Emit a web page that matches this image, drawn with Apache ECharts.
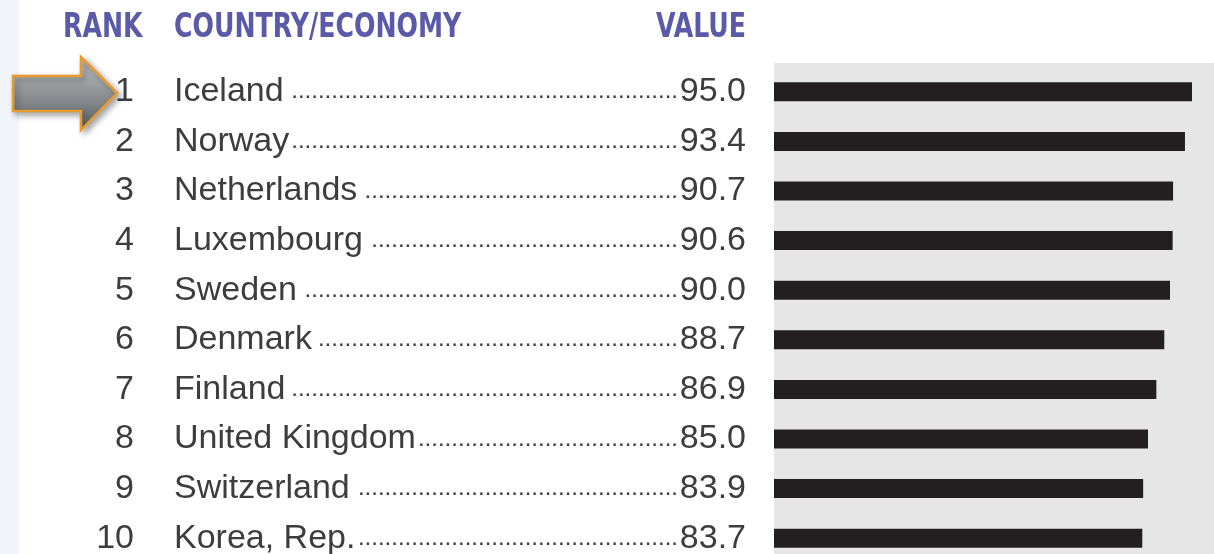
<!DOCTYPE html>
<html>
<head>
<meta charset="utf-8">
<script src="https://cdn.jsdelivr.net/npm/echarts@6/dist/echarts.min.js"></script>
<style>
  html, body { margin: 0; padding: 0; background: #ffffff; }
  #chart { width: 1214px; height: 554px; }
</style>
</head>
<body>
<div id="chart"></div>
<script>
const ranks = ['1', '2', '3', '4', '5', '6', '7', '8', '9', '10'];
const countries = ['Iceland', 'Norway', 'Netherlands', 'Luxembourg', 'Sweden', 'Denmark', 'Finland', 'United Kingdom', 'Switzerland', 'Korea, Rep.'];
const values = [95.0, 93.4, 90.7, 90.6, 90.0, 88.7, 86.9, 85.0, 83.9, 83.7];
const headers = ['RANK', 'COUNTRY/ECONOMY', 'VALUE'];

const textFont = '"Liberation Sans", Arial, sans-serif';
const headFont = '"DejaVu Sans Condensed", "Liberation Sans Narrow", sans-serif';
const textColor = '#3d3d3d';
const headColor = '#5a5aa8';
const nameSize = 34;
const dotSize = 24;

// count how many leader dots fit between the name and the value
const ctx = document.createElement('canvas').getContext('2d');
function textWidth(str, size) {
  ctx.font = size + 'px ' + textFont;
  return ctx.measureText(str).width;
}
const nameX = 174;
const dotsEnd = 678;
const dotW = textWidth('.', dotSize);
const dots = countries.map(c => {
  const room = dotsEnd - nameX - textWidth(c, nameSize) - 2;
  return '.'.repeat(Math.max(0, Math.floor(room / dotW)));
});

const chart = echarts.init(document.getElementById('chart'));
const gridLeft = 774;
const labelShift = [0, 0, 10, 0];

const hiddenAxis = {
  type: 'category',
  inverse: true,
  position: 'left',
  offset: 0,
  data: countries,
  axisLine: { show: false },
  axisTick: { show: false },
  splitLine: { show: false }
};

function headText(str, x, align) {
  return {
    type: 'text', x: x, y: 12, scaleX: 0.85, z: 5,
    style: { text: str, align: align, font: 'bold 33px ' + headFont, fill: headColor }
  };
}

const option = {
  animation: false,
  backgroundColor: '#ffffff',
  grid: { left: gridLeft, right: 0, top: 67, height: 496, outerBoundsMode: 'none', containLabel: false },
  xAxis: { type: 'value', min: 0, max: 100, show: false },
  yAxis: [
    {
      ...hiddenAxis,
      axisLabel: {
        interval: 0,
        margin: gridLeft - 134,
        align: 'right',
        fontFamily: textFont, fontSize: nameSize, color: textColor,
        padding: labelShift,
        formatter: (v, i) => ranks[i]
      }
    },
    {
      ...hiddenAxis,
      axisLabel: {
        interval: 0,
        margin: gridLeft - nameX,
        align: 'left',
        fontFamily: textFont, fontSize: nameSize, color: textColor,
        padding: labelShift
      }
    },
    {
      ...hiddenAxis,
      axisLabel: {
        interval: 0,
        margin: gridLeft - dotsEnd,
        align: 'right',
        fontFamily: textFont, fontSize: dotSize, color: textColor,
        padding: [0, 0, 2, 0],
        formatter: (v, i) => dots[i]
      }
    },
    {
      ...hiddenAxis,
      axisLabel: {
        interval: 0,
        margin: gridLeft - 746,
        align: 'right',
        fontFamily: textFont, fontSize: nameSize, color: textColor,
        padding: labelShift,
        formatter: (v, i) => values[i].toFixed(1)
      }
    }
  ],
  graphic: [
    { type: 'rect', z: 0, shape: { x: 0, y: 0, width: 19, height: 554 }, style: { fill: '#f1f5fa' } },
    { type: 'rect', z: 0, shape: { x: 774, y: 63, width: 440, height: 491 }, style: { fill: '#e6e6e6' } },
    headText(headers[0], 63, 'left'),
    headText(headers[1], 174, 'left'),
    headText(headers[2], 746, 'right'),
    {
      type: 'polygon', z: 10,
      shape: { points: [[13, 76], [81, 76], [81, 57], [117, 93], [81, 130], [81, 111], [13, 111]] },
      style: {
        fill: new echarts.graphic.LinearGradient(0, 0, 0, 1, [
          { offset: 0, color: '#c3c6c8' },
          { offset: 1, color: '#595e62' }
        ]),
        stroke: '#e89a2c',
        lineWidth: 2.5,
        shadowBlur: 6,
        shadowOffsetX: 3,
        shadowOffsetY: 3,
        shadowColor: 'rgba(0,0,0,0.35)'
      }
    }
  ],
  series: [
    {
      type: 'bar',
      yAxisIndex: 0,
      data: values,
      barWidth: 19,
      itemStyle: { color: '#231f20' },
      silent: true
    }
  ]
};

chart.setOption(option);
</script>
</body>
</html>
